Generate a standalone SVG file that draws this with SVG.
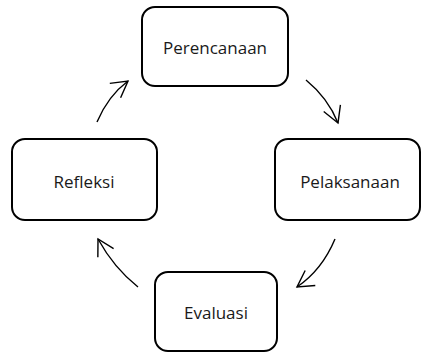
<svg xmlns="http://www.w3.org/2000/svg" width="421" height="353" viewBox="0 0 421 353">
<style>
.box{fill:#fff;stroke:#000;stroke-width:2}
.lbl{font-family:"Open Sans","Liberation Sans",sans-serif;font-size:17px;fill:#1a1a1a;text-anchor:middle;dominant-baseline:central}
.arc{fill:none;stroke:#000;stroke-width:1.4;marker-end:url(#head)}
</style>
<defs>
<marker id="head" markerUnits="userSpaceOnUse" viewBox="-20 -12 22 24" refX="0" refY="0" markerWidth="22" markerHeight="24" orient="auto">
<path d="M-16,-9 L0,0 L-16,9" fill="none" stroke="#000" stroke-width="1.4"/>
</marker>
</defs>
<rect width="421" height="353" fill="#fff"/>
<g id="connectors">
<path class="arc" d="M97,122 Q108,96 128,81"/>
<path class="arc" d="M306,80 Q328,98 338,123"/>
<path class="arc" d="M335,239 Q322,270 297,287"/>
<path class="arc" d="M138,287 Q114,268 98,239"/>
</g>
<g id="perencanaan">
<rect class="box" x="142" y="7" width="146" height="79" rx="13"/>
<text class="lbl" x="215" y="47">Perencanaan</text>
</g>
<g id="pelaksanaan">
<rect class="box" x="275" y="139" width="145" height="81" rx="13"/>
<text class="lbl" x="350" y="181">Pelaksanaan</text>
</g>
<g id="refleksi">
<rect class="box" x="12" y="139" width="145" height="81" rx="13"/>
<text class="lbl" x="84" y="181">Refleksi</text>
</g>
<g id="evaluasi">
<rect class="box" x="155" y="272" width="122" height="79" rx="13"/>
<text class="lbl" x="216" y="312">Evaluasi</text>
</g>
</svg>
